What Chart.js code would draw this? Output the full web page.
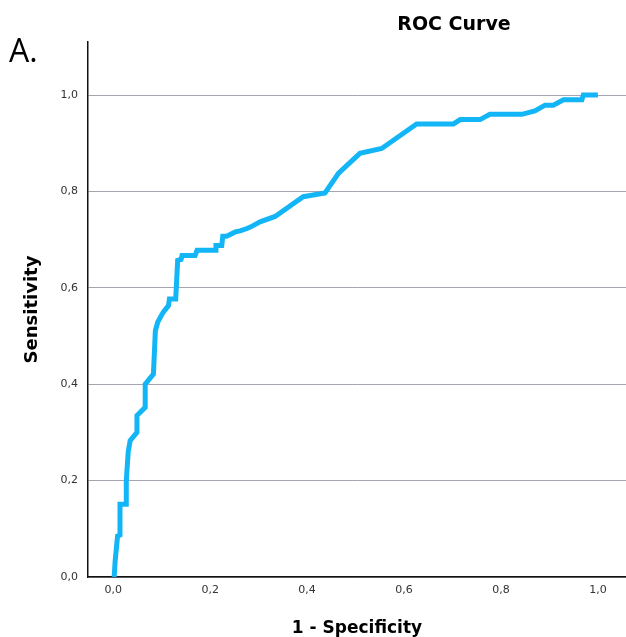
<!DOCTYPE html>
<html>
<head>
<meta charset="utf-8">
<script src="https://cdn.jsdelivr.net/npm/chart.js@4"></script>
<style>
  html, body { margin: 0; padding: 0; background: #fff; }
  #wrap { width: 626px; height: 637px; position: relative; }
</style>
</head>
<body>
<div id="wrap"><canvas id="roc"></canvas></div>
<script>
// ROC curve points
const fpr = [0.002, 0.004, 0.009, 0.014, 0.014, 0.027, 0.027, 0.031, 0.035, 0.049, 0.049, 0.066, 0.066,
  0.083, 0.087, 0.092, 0.103, 0.114, 0.116, 0.129, 0.133, 0.140, 0.142, 0.169, 0.173, 0.212, 0.212,
  0.224, 0.226, 0.234, 0.252, 0.262, 0.276, 0.283, 0.303, 0.334, 0.392, 0.437, 0.465, 0.509, 0.554,
  0.626, 0.702, 0.716, 0.757, 0.777, 0.843, 0.870, 0.891, 0.908, 0.929, 0.967, 0.970, 1.0];
const tpr = [0.0, 0.033, 0.085, 0.087, 0.151, 0.151, 0.2, 0.26, 0.283, 0.30, 0.335, 0.352, 0.40,
  0.421, 0.511, 0.529, 0.549, 0.563, 0.577, 0.577, 0.657, 0.659, 0.667, 0.667, 0.678, 0.678, 0.688,
  0.688, 0.707, 0.707, 0.716, 0.718, 0.723, 0.726, 0.737, 0.748, 0.789, 0.797, 0.838, 0.879, 0.889,
  0.940, 0.940, 0.949, 0.949, 0.960, 0.960, 0.967, 0.979, 0.979, 0.990, 0.990, 1.0, 1.0];
const xTicks = [0, 0.2, 0.4, 0.6, 0.8, 1.0];
const yTicks = [0, 0.2, 0.4, 0.6, 0.8, 1.0];

const points = fpr.map((x, i) => ({ x: x, y: tpr[i] }));
const fmt = v => Number(v).toFixed(1).replace('.', ',');

// title and panel letter
const extraText = {
  id: 'extraText',
  afterDraw(chart) {
    const ctx = chart.ctx;
    ctx.save();
    ctx.fillStyle = '#000';
    ctx.textBaseline = 'middle';
    ctx.textAlign = 'center';
    ctx.font = 'bold 19px "DejaVu Sans", sans-serif';
    ctx.fillText('ROC Curve', 454, 25);
    ctx.textAlign = 'left';
    ctx.font = '32px "Open Sans", sans-serif';
    ctx.fillText('A.', 9, 53);
    ctx.restore();
  }
};

new Chart(document.getElementById('roc').getContext('2d'), {
  type: 'scatter',
  data: {
    datasets: [{
      data: points,
      showLine: true,
      borderColor: '#12b5f5',
      borderWidth: 5,
      pointRadius: 0,
      tension: 0,
      fill: false,
      borderJoinStyle: 'miter'
    }]
  },
  options: {
    responsive: true,
    maintainAspectRatio: false,
    animation: false,
    layout: { padding: { top: 42, right: 0, left: 0, bottom: 0 } },
    plugins: { legend: { display: false }, tooltip: { enabled: false }, title: { display: false } },
    scales: {
      x: {
        type: 'linear',
        min: -0.052,
        max: 1.058,
        afterBuildTicks: s => { s.ticks = xTicks.map(v => ({ value: v })); },
        afterFit: s => { s.height = 60; },
        grid: { display: false, drawTicks: false },
        border: { display: true, color: '#111', width: 1.5 },
        ticks: {
          padding: 7,
          color: '#333',
          font: { family: '"DejaVu Sans", sans-serif', size: 11 },
          callback: v => fmt(v)
        },
        title: {
          display: true,
          text: '1 - Specificity',
          color: '#000',
          padding: { top: 0, bottom: 0 },
          font: { family: '"DejaVu Sans", sans-serif', size: 17, weight: 'bold', lineHeight: 1.0 }
        }
      },
      y: {
        type: 'linear',
        min: 0,
        max: 1.11,
        afterBuildTicks: s => { s.ticks = yTicks.map(v => ({ value: v })); },
        afterFit: s => { s.width = 88; },
        grid: { color: '#a4a4b2', lineWidth: 1, drawTicks: false },
        border: { display: true, color: '#111', width: 1.5 },
        ticks: {
          padding: 10,
          color: '#333',
          font: { family: '"DejaVu Sans", sans-serif', size: 11 },
          callback: v => fmt(v)
        },
        title: {
          display: true,
          text: 'Sensitivity',
          color: '#000',
          padding: { top: 22, bottom: 0 },
          font: { family: '"DejaVu Sans", sans-serif', size: 18, weight: 'bold', lineHeight: 1.2 }
        }
      }
    }
  },
  plugins: [extraText]
});
</script>
</body>
</html>
